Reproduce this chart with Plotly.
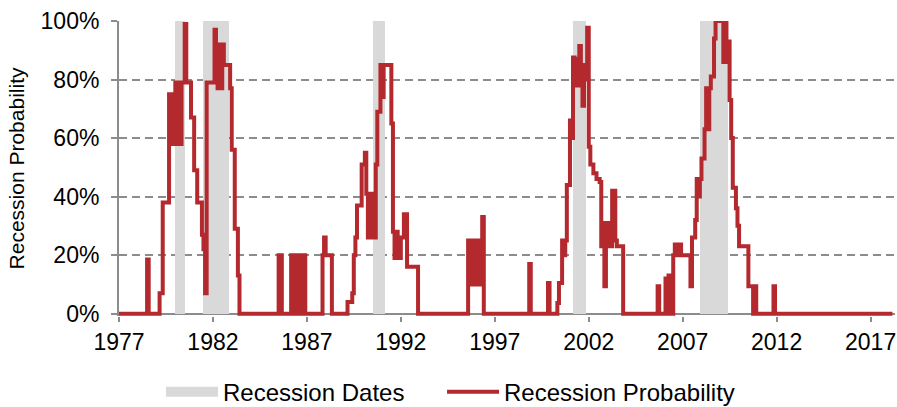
import plotly.graph_objects as go
import pandas as pd

# Recession probability: month where the value changes, and the new value (%)
prob_dates = [
    "1977-01", "1978-07", "1978-08", "1979-03", "1979-05", "1979-09", "1979-10",
    "1979-11", "1979-12", "1980-01", "1980-02", "1980-03", "1980-04", "1980-05",
    "1980-07", "1980-08", "1980-11", "1981-01", "1981-03", "1981-06", "1981-07",
    "1981-08", "1981-09", "1982-02", "1982-03", "1982-04", "1982-05", "1982-06",
    "1982-07", "1982-08", "1982-12", "1983-01", "1983-03", "1983-05", "1983-06",
    "1985-07", "1985-09", "1986-03", "1986-04", "1986-05", "1986-07", "1986-08",
    "1986-09", "1986-10", "1986-12", "1987-11", "1987-12", "1988-01",
    "1988-05",
    "1989-03", "1989-06", "1989-07", "1989-08", "1989-09", "1989-12", "1990-02",
    "1990-03", "1990-04", "1990-05", "1990-06", "1990-07", "1990-08", "1990-09",
    "1990-10", "1990-12", "1991-01", "1991-02", "1991-07", "1991-08", "1991-09",
    "1991-10", "1991-11", "1992-01", "1992-03", "1992-05", "1992-12",
    "1995-08", "1995-09", "1995-10", "1995-11", "1995-12", "1996-01", "1996-02",
    "1996-03", "1996-04", "1996-05", "1996-06",
    "1998-11", "1998-12", "1999-11", "1999-12", "2000-05", "2000-06", "2000-08",
    "2000-09", "2000-10", "2000-11", "2001-01", "2001-02", "2001-03", "2001-04",
    "2001-05", "2001-06", "2001-07", "2001-08", "2001-09", "2001-10", "2001-11",
    "2001-12", "2002-01", "2002-02", "2002-04", "2002-06", "2002-08", "2002-09",
    "2002-10", "2002-11", "2002-12", "2003-01", "2003-02", "2003-03", "2003-04",
    "2003-06", "2003-07", "2003-11",
    "2005-09", "2005-10", "2006-02", "2006-03", "2006-04", "2006-05", "2006-07",
    "2006-08", "2006-09", "2006-10", "2006-12", "2007-06", "2007-07", "2007-09",
    "2007-10", "2007-11", "2007-12", "2008-01", "2008-03", "2008-04", "2008-05",
    "2008-06", "2008-07", "2008-09", "2008-10", "2009-03", "2009-04", "2009-05",
    "2009-06", "2009-07", "2009-08", "2009-09", "2009-11", "2009-12", "2010-01",
    "2010-07", "2010-10", "2010-11", "2010-12", "2011-11", "2011-12", "2018-03",
]
prob_values = [
    0, 18.5, 0, 7, 38, 75, 58,
    75, 58, 79, 58, 79, 58, 79,
    99, 79, 67, 49, 38, 27, 22,
    7, 79, 97, 80, 77, 92, 77,
    92, 85, 77, 56, 29, 13, 0,
    20, 0, 20, 0, 20, 0, 20,
    0, 20, 0, 20, 26, 20,
    0,
    4, 7, 20, 26, 37, 51, 55,
    41, 26, 41, 26, 41, 26, 51,
    69, 85, 74, 85, 65, 28, 19,
    28, 19, 26, 34, 16, 0,
    25, 10, 25, 10, 25, 10, 25,
    10, 25, 33, 0,
    17, 0, 10.5, 0, 3.6, 10.5, 25,
    20, 25, 44, 66, 60, 87.5, 78,
    87, 78, 91.5, 80, 71, 85, 80,
    97.7, 57, 51, 48, 46, 45, 23,
    31, 9.4, 31, 23, 31, 23, 42,
    25, 23, 0,
    9.4, 0, 12, 0, 13, 0, 20,
    23.6, 20, 23.6, 20, 9.4, 26, 32,
    46, 40, 46, 53, 63, 77, 63,
    77, 81, 94, 100, 86, 100, 86,
    93, 73, 60, 43, 36, 30, 23,
    9.4, 0, 9.4, 0, 9.4, 0, 0,
]

# NBER recession dates
rec_start = ["1980-01-01", "1981-07-01", "1990-07-01", "2001-03-01", "2007-12-01"]
rec_end = ["1980-07-01", "1982-11-01", "1991-03-01", "2001-11-01", "2009-06-01"]

tick_years = [1977, 1982, 1987, 1992, 1997, 2002, 2007, 2012, 2017]
y_ticks = [0, 0.2, 0.4, 0.6, 0.8, 1.0]

RED = "#B3292E"
BAND = "#D9D9D9"
GRID = "#8C8C8C"
FONT = "Arial, Liberation Sans, sans-serif"

starts = pd.to_datetime(rec_start)
ends = pd.to_datetime(rec_end)
widths = [(e - s).total_seconds() * 1000 for s, e in zip(starts, ends)]

fig = go.Figure()

# legend-only entry for the recession bands
fig.add_trace(go.Scatter(
    x=[None], y=[None], mode="lines", name="Recession Dates",
    line=dict(color=BAND, width=13), legendgroup="rec", legend="legend",
))
fig.add_trace(go.Bar(
    x=list(starts), y=[1] * len(starts), width=widths, offset=0,
    marker=dict(color=BAND, line=dict(width=0)),
    showlegend=False, legendgroup="rec", hoverinfo="skip",
))
fig.add_trace(go.Scatter(
    x=prob_dates, y=[v / 100 for v in prob_values], mode="lines",
    line=dict(color=RED, width=4, shape="hv"), name="Recession Probability",
    legend="legend2",
))

legend_common = dict(
    orientation="h", xref="container", yref="paper",
    y=-0.334, xanchor="left", yanchor="bottom",
    font=dict(size=24, family=FONT), itemwidth=52,
    bgcolor="rgba(0,0,0,0)",
)

fig.update_layout(
    width=897, height=407,
    margin=dict(l=119, r=2, t=21, b=91, autoexpand=False),
    paper_bgcolor="white", plot_bgcolor="white",
    font=dict(family=FONT, color="#000000", size=23),
    barmode="overlay", bargap=0,
    showlegend=True,
    legend=dict(x=0.1795, **legend_common),
    legend2=dict(x=0.4928, **legend_common),
    xaxis=dict(
        type="date", range=["1977-01-01", "2018-04-20"],
        tickvals=[f"{y}-01-01" for y in tick_years],
        ticktext=[str(y) for y in tick_years],
        showgrid=False, zeroline=False, showline=False,
        ticks="outside", ticklen=5, tickwidth=2, tickcolor=GRID,
        tickfont=dict(size=23), ticklabelstandoff=0, automargin=False,
    ),
    yaxis=dict(
        range=[-0.008, 1.0], tickvals=y_ticks, tickformat=".0%",
        showgrid=True, gridcolor=GRID, gridwidth=2, griddash="8px,5px",
        zeroline=True, zerolinecolor=GRID, zerolinewidth=2,
        showline=True, linecolor=GRID, linewidth=2,
        ticks="outside", ticklen=6, tickwidth=2, tickcolor=GRID,
        tickfont=dict(size=23), ticklabelstandoff=7, automargin=False,
    ),
    annotations=[dict(
        text="Recession Probability", textangle=-90,
        xref="paper", yref="paper", x=-0.1315, y=0.5,
        xanchor="center", yanchor="middle", showarrow=False,
        font=dict(size=21, family=FONT),
    )],
)

fig.write_html(
    "out.html",
    config={"displayModeBar": False},
    post_script="document.body.style.margin='0px';document.body.style.overflow='hidden';",
)
